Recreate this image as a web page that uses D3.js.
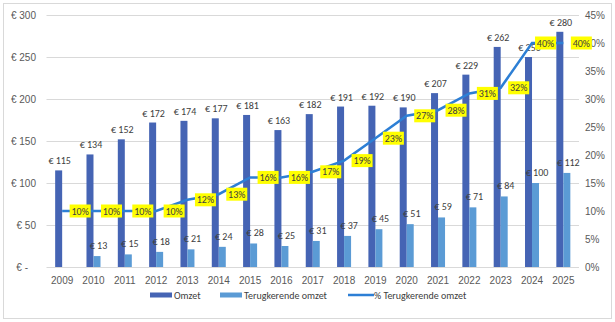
<!DOCTYPE html>
<html>
<head>
<meta charset="utf-8">
<script src="https://cdn.jsdelivr.net/npm/d3@7"></script>
<style>
  html, body { margin: 0; padding: 0; background: #fff; }
  svg { display: block; font-family: Carlito, Calibri, Lato, sans-serif; }
  .tick text { fill: #595959; font-size: 10px; }
  .lbl { fill: #404040; font-size: 10px; }
</style>
</head>
<body>
<svg id="chart" width="615" height="322"></svg>
<script>
const years = ["2009", "2010", "2011", "2012", "2013", "2014", "2015", "2016", "2017",
  "2018", "2019", "2020", "2021", "2022", "2023", "2024", "2025"];
const omzet = [115, 134, 152, 172, 174, 177, 181, 163, 182, 191, 192, 190, 207, 229, 262, 250, 280];
const terugkerend = [null, 13, 15, 18, 21, 24, 28, 25, 31, 37, 45, 51, 59, 71, 84, 100, 112];
const pctTerugkerend = [10, 10, 10, 10, 12, 13, 16, 16, 17, 19, 23, 27, 28, 31, 32, 40, 40];
const eurTicks = [0, 50, 100, 150, 200, 250, 300];
const pctTicks = [0, 5, 10, 15, 20, 25, 30, 35, 40, 45];

const colDark = "#4564b4";
const colLight = "#5b9bd5";
const colLine = "#2d7fd5";

const svg = d3.select("#chart");
const W = 615, H = 322;
const plot = { left: 46.5, right: 579, top: 15, bottom: 267 };

svg.append("rect")
  .attr("x", 3.5).attr("y", 3.5)
  .attr("width", W - 7).attr("height", H - 7)
  .attr("fill", "#fff").attr("stroke", "#d9d9d9");

const x = d3.scaleBand().domain(years).range([plot.left, plot.right]).padding(0);
const bw = x.bandwidth();
const xs = d3.scaleBand().domain(["omzet", "terug"]).range([bw / 2 - 7, bw / 2 + 7]);
const y = d3.scaleLinear().domain([0, 300]).range([plot.bottom, plot.top]);
const y2 = d3.scaleLinear().domain([0, 45]).range([plot.bottom, plot.top]);

// horizontal gridlines on the euro axis
svg.append("g")
  .selectAll("line")
  .data(eurTicks.slice(1))
  .join("line")
  .attr("x1", plot.left).attr("x2", plot.right)
  .attr("y1", d => Math.round(y(d)) + 0.5).attr("y2", d => Math.round(y(d)) + 0.5)
  .attr("stroke", "#d9d9d9");

svg.append("line")
  .attr("x1", plot.left).attr("x2", plot.right)
  .attr("y1", plot.bottom + 0.5).attr("y2", plot.bottom + 0.5)
  .attr("stroke", "#d9d9d9");

const euro = d => d === 0 ? "€ -" : "€ " + d;

svg.append("g")
  .attr("transform", `translate(${plot.left},0)`)
  .call(d3.axisLeft(y).tickValues(eurTicks).tickFormat(euro).tickSize(0).tickPadding(10.5))
  .call(g => g.select(".domain").remove())
  .call(g => g.selectAll(".tick text").filter(d => d === 0).attr("dx", -8));

svg.append("g")
  .attr("transform", `translate(${plot.right},0)`)
  .call(d3.axisRight(y2).tickValues(pctTicks).tickFormat(d => d + "%").tickSize(0).tickPadding(6))
  .call(g => g.select(".domain").remove());

svg.append("g")
  .attr("transform", `translate(0,${plot.bottom})`)
  .call(d3.axisBottom(x).tickSize(0).tickPadding(10))
  .call(g => g.select(".domain").remove());

// bars
const rows = years.map((yr, i) => ({ yr, omzet: omzet[i], terug: terugkerend[i], pct: pctTerugkerend[i] }));

const bars = svg.append("g");
bars.selectAll(".b-omzet")
  .data(rows)
  .join("rect")
  .attr("class", "b-omzet")
  .attr("x", d => x(d.yr) + xs("omzet"))
  .attr("y", d => y(d.omzet))
  .attr("width", xs.bandwidth())
  .attr("height", d => y(0) - y(d.omzet))
  .attr("fill", colDark);

bars.selectAll(".b-terug")
  .data(rows.filter(d => d.terug != null))
  .join("rect")
  .attr("class", "b-terug")
  .attr("x", d => x(d.yr) + xs("terug"))
  .attr("y", d => y(d.terug))
  .attr("width", xs.bandwidth())
  .attr("height", d => y(0) - y(d.terug))
  .attr("fill", colLight);

// value labels over the bars
svg.append("g").selectAll("text")
  .data(rows)
  .join("text")
  .attr("class", "lbl")
  .attr("x", d => x(d.yr) + xs("omzet") + xs.bandwidth() / 2 + 1)
  .attr("y", d => y(d.omzet) - 6)
  .attr("text-anchor", "middle")
  .text(d => "€ " + d.omzet);

svg.append("g").selectAll("text")
  .data(rows.filter(d => d.terug != null))
  .join("text")
  .attr("class", "lbl")
  .attr("x", d => x(d.yr) + xs("terug") + xs.bandwidth() / 2 + 1.5)
  .attr("y", d => y(d.terug) - 7)
  .attr("text-anchor", "middle")
  .text(d => "€ " + d.terug);

// percentage line
const cx = d => x(d.yr) + bw / 2;
svg.append("path")
  .datum(rows)
  .attr("fill", "none")
  .attr("stroke", colLine)
  .attr("stroke-width", 2.5)
  .attr("d", d3.line().x(cx).y(d => y2(d.pct)));

// labels sit to the right of each point; the 2024 one was nudged closer
const labelGap = d => d.yr === "2024" ? 3 : 7.5;
const pl = svg.append("g").selectAll("g")
  .data(rows)
  .join("g")
  .attr("transform", d => `translate(${cx(d) + labelGap(d)},${y2(d.pct)})`);

pl.append("rect")
  .attr("x", 0).attr("y", -6.5)
  .attr("width", 21).attr("height", 13)
  .attr("fill", "#ffff00");

pl.append("text")
  .attr("class", "lbl")
  .attr("x", 10.5).attr("y", 3.5)
  .attr("text-anchor", "middle")
  .text(d => d.pct + "%");

// legend
const lg = svg.append("g").attr("transform", "translate(0,295)");
lg.append("rect").attr("x", 150).attr("y", -2.5).attr("width", 22).attr("height", 5).attr("fill", colDark);
lg.append("text").attr("class", "lbl").attr("x", 174).attr("y", 3.5).text("Omzet");
lg.append("rect").attr("x", 220).attr("y", -2.5).attr("width", 22).attr("height", 5).attr("fill", colLight);
lg.append("text").attr("class", "lbl").attr("x", 244).attr("y", 3.5).text("Terugkerende omzet");
lg.append("line").attr("x1", 348).attr("x2", 374).attr("y1", 0).attr("y2", 0)
  .attr("stroke", colLine).attr("stroke-width", 2.5);
lg.append("text").attr("class", "lbl").attr("x", 374).attr("y", 3.5).text("% Terugkerende omzet");
</script>
</body>
</html>
